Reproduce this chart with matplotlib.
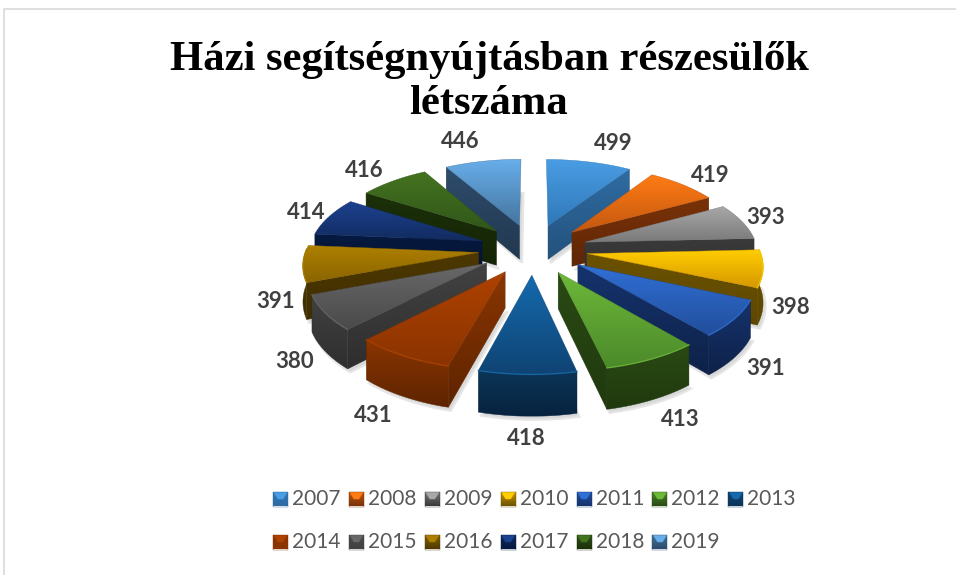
import matplotlib
matplotlib.use('Agg')
import matplotlib.pyplot as plt
from matplotlib.colors import to_rgb
from matplotlib.patches import Polygon
import numpy as np

# Data
YEARS = ['2007', '2008', '2009', '2010', '2011', '2012', '2013',
         '2014', '2015', '2016', '2017', '2018', '2019']
VALUES = [499, 419, 393, 398, 391, 413, 418, 431, 380, 391, 414, 416, 446]
TITLE = 'Házi segítségnyújtásban részesülők\nlétszáma'

# top surface colours (upper edge, lower edge)
TOP_LIGHT = ['#4A9DE4', '#FF7C14', '#A8A8A8', '#FFCE00', '#3070D6', '#6DB83A', '#156AAE',
             '#AE4200', '#686868', '#AE8000', '#1C4290', '#44741F', '#68AEEA']
TOP_DARK = ['#2F78B8', '#C45810', '#7A7A7A', '#D69800', '#224E9C', '#4C8A2A', '#0F4474',
            '#8A3300', '#4A4A4A', '#8A6400', '#122B60', '#31561A', '#44749E']
WALL_DARK = ['#24527C', '#5E2606', '#303030', '#5E4700', '#0E2248', '#20390E', '#07233F',
             '#5E2400', '#2E2E2E', '#3F2E00', '#04122E', '#142406', '#22384F']
WALL_LIGHT = ['#2F6CA3', '#7A3208', '#3A3A3A', '#6B5200', '#16336E', '#2A4A14', '#0C3558',
              '#8A3500', '#424242', '#4D3800', '#061A40', '#1C3009', '#2E4C6C']

# Layout (pixels of the 956x575 picture)
W, H = 956, 575
CX, CY = 533, 249
RX, RY = 227, 105
PERSP = 0.163
EXPLODE = 0.24
DEPTH = 35
LABEL_RU, LABEL_RV = 1.115, 1.14


def project(u, v, z=0.0):
    s = 1.0 / (1.0 + PERSP * v)
    return CX + RX * u * s, CY - RY * v * s + DEPTH * z * s


def gradient_poly(ax, verts, c1, c2, horizontal, zorder):
    verts = np.asarray(verts)
    x0, y0 = verts.min(axis=0)
    x1, y1 = verts.max(axis=0)
    t = np.linspace(0, 1, 64)[:, None]
    img = (1 - t) * np.array(to_rgb(c1)) + t * np.array(to_rgb(c2))
    img = img[None, :, :] if horizontal else img[:, None, :]
    im = ax.imshow(img, extent=(x0, x1, y1, y0), origin='upper', aspect='auto',
                   interpolation='bilinear', zorder=zorder)
    patch = Polygon(verts, closed=True, transform=ax.transData, facecolor='none', edgecolor='none')
    ax.add_patch(patch)
    im.set_clip_path(patch)
    # thin same-tone edge hides the jagged clip border
    ax.add_patch(Polygon(verts, closed=True, facecolor='none', edgecolor=c2, linewidth=0.3, zorder=zorder))


fig = plt.figure(figsize=(W / 100, H / 100), dpi=100)
ax = fig.add_axes([0, 0, 1, 1])
ax.axis('off')

# chart frame
ax.plot([4, 4, W], [H, 8.5, 8.5], color='#D9D9D9', lw=1.2, zorder=1)

vals = np.array(VALUES, dtype=float)
edges = np.concatenate([[0], np.cumsum(vals)]) / vals.sum() * 2 * np.pi
mids = (edges[:-1] + edges[1:]) / 2

# back slices first
order = np.argsort(-np.cos(mids))
z = 10
for i in order:
    a, b, m = edges[i], edges[i + 1], mids[i]
    ox, oy = EXPLODE * np.sin(m), EXPLODE * np.cos(m)
    r = 1 - EXPLODE
    th = np.linspace(a, b, 40)
    us = ox + r * np.sin(th)
    vs = oy + r * np.cos(th)

    top = [project(ox, oy)] + [project(u, v) for u, v in zip(us, vs)]
    low = [project(ox, oy, 1)] + [project(u, v, 1) for u, v in zip(us, vs)]

    # soft shadow under the slice
    sh = np.array(low) + [2.5, 3.5]
    ax.add_patch(Polygon(sh, closed=True, facecolor='#D8D8D8', edgecolor='#E6E6E6', lw=1.5, zorder=2))

    # radial walls
    if np.sin(a) < 0:
        wall = [top[0], top[1], low[1], low[0]]
        gradient_poly(ax, wall, WALL_LIGHT[i], WALL_DARK[i], False, z)
        z += 1
    if np.sin(b) > 0:
        wall = [top[0], top[-1], low[-1], low[0]]
        gradient_poly(ax, wall, WALL_LIGHT[i], WALL_DARK[i], False, z)
        z += 1
    # outer wall, only the part that faces the viewer
    mask = np.cos(th) < 0.05
    if mask.sum() > 1:
        t_arc = [project(u, v) for u, v in zip(us[mask], vs[mask])]
        l_arc = [project(u, v, 1) for u, v in zip(us[mask], vs[mask])]
        gradient_poly(ax, t_arc + l_arc[::-1], WALL_LIGHT[i], WALL_DARK[i], False, z)
        z += 1
        rim = np.array(t_arc)
        ax.plot(rim[:, 0], rim[:, 1], color=TOP_LIGHT[i], lw=1.0, alpha=0.8, zorder=z + 1)

    gradient_poly(ax, top, TOP_LIGHT[i], TOP_DARK[i], False, z)
    z += 2

# value labels: pushed sideways near the top and bottom, as Excel places them
for i, m in enumerate(mids):
    lu, lv = LABEL_RU * np.sin(m), LABEL_RV * np.cos(m)
    x, y = project(lu, lv, 1 if lv < 0 else 0)
    x += (80 if lv >= 0 else 40) * np.sin(m) * np.cos(m) ** 4
    if lv >= 0:
        y -= 5 * lv ** 6
    ax.text(x, y, str(VALUES[i]), ha='center', va='center', family='Lato',
            fontweight='bold', fontsize=16, color='#404040', zorder=200)

# title
ax.text(489, 82, TITLE, ha='center', va='center', family='Liberation Serif', fontweight='bold',
        fontsize=30.7, color='black', linespacing=1.22, zorder=200)

# legend, 7 entries per row
for i, year in enumerate(YEARS):
    row, col = divmod(i, 7)
    lx = 273 + col * 75.9
    ly = 499 + row * 43
    sq = [(lx, ly - 7.5), (lx + 15, ly - 7.5), (lx + 15, ly + 7.5), (lx, ly + 7.5)]
    gradient_poly(ax, sq, TOP_DARK[i], WALL_LIGHT[i], False, 300)
    tri = [(lx + 1, ly - 6.5), (lx + 14, ly - 6.5), (lx + 10, ly), (lx + 5, ly)]
    gradient_poly(ax, tri, TOP_LIGHT[i], TOP_LIGHT[i], False, 301)
    ax.text(lx + 19, ly, year, ha='left', va='center', family='Lato', fontsize=15,
            color='#595959', zorder=300)

ax.set_xlim(0, W)
ax.set_ylim(H, 0)
fig.savefig('out.png', dpi=100, facecolor='white')
